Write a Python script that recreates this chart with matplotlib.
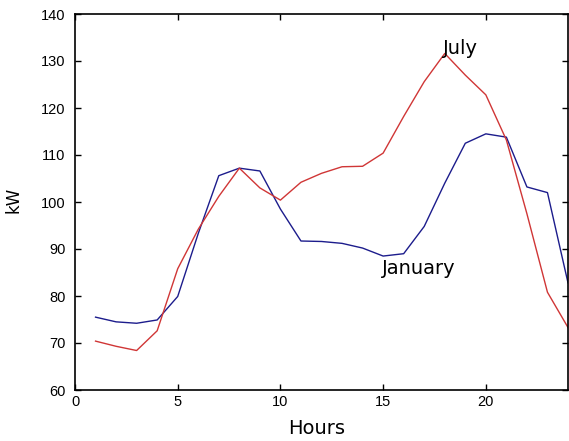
import matplotlib
matplotlib.use("Agg")
import matplotlib.pyplot as plt

hours = list(range(1, 25))
january = [75.5, 74.5, 74.2, 74.9, 79.9, 93.3, 105.6, 107.2, 106.6, 98.5, 91.7, 91.6,
           91.2, 90.2, 88.5, 89.0, 94.8, 104.0, 112.5, 114.5, 113.8, 103.2, 102.0, 82.8]
july = [70.4, 69.3, 68.4, 72.6, 85.8, 94.2, 101.2, 107.2, 103.0, 100.4, 104.2, 106.1,
        107.5, 107.6, 110.4, 118.2, 125.6, 131.6, 127.0, 122.8, 113.2, 97.5, 80.8, 73.3]

plt.rcParams['font.family'] = ['Liberation Sans Narrow', 'Liberation Sans', 'DejaVu Sans']
wide = ['DejaVu Sans']

fig = plt.figure(figsize=(5.69, 4.41), dpi=100)
ax = fig.add_axes([75 / 569, 1 - 390 / 441, 493 / 569, 376 / 441])

ax.plot(hours, january, color='#1c1c8c', lw=1.0)
ax.plot(hours, july, color='#d03636', lw=1.0)

ax.text(17.9, 131.4, 'July', fontsize=14, family=wide, va='baseline')
ax.text(14.95, 84.6, 'January', fontsize=14, family=wide, va='baseline')

ax.set_xlim(0, 24)
ax.set_ylim(60, 140)
ax.set_xticks([0, 5, 10, 15, 20])
ax.set_yticks(range(60, 141, 10))
ax.tick_params(direction='in', top=True, right=True, labelsize=10.5, length=4, width=1)
ax.tick_params(axis='y', pad=7)
for s in ax.spines.values():
    s.set_linewidth(1.2)

ax.set_xlabel('Hours', fontsize=14, family=wide, va='center')
ax.set_ylabel('kW', fontsize=12, family=wide, va='center')
ax.xaxis.set_label_coords((317 - 75) / 493, -(428 - 390) / 376)
ax.yaxis.set_label_coords(-(75 - 14) / 493, (390 - 200) / 376)

fig.savefig('out.png', dpi=100)
